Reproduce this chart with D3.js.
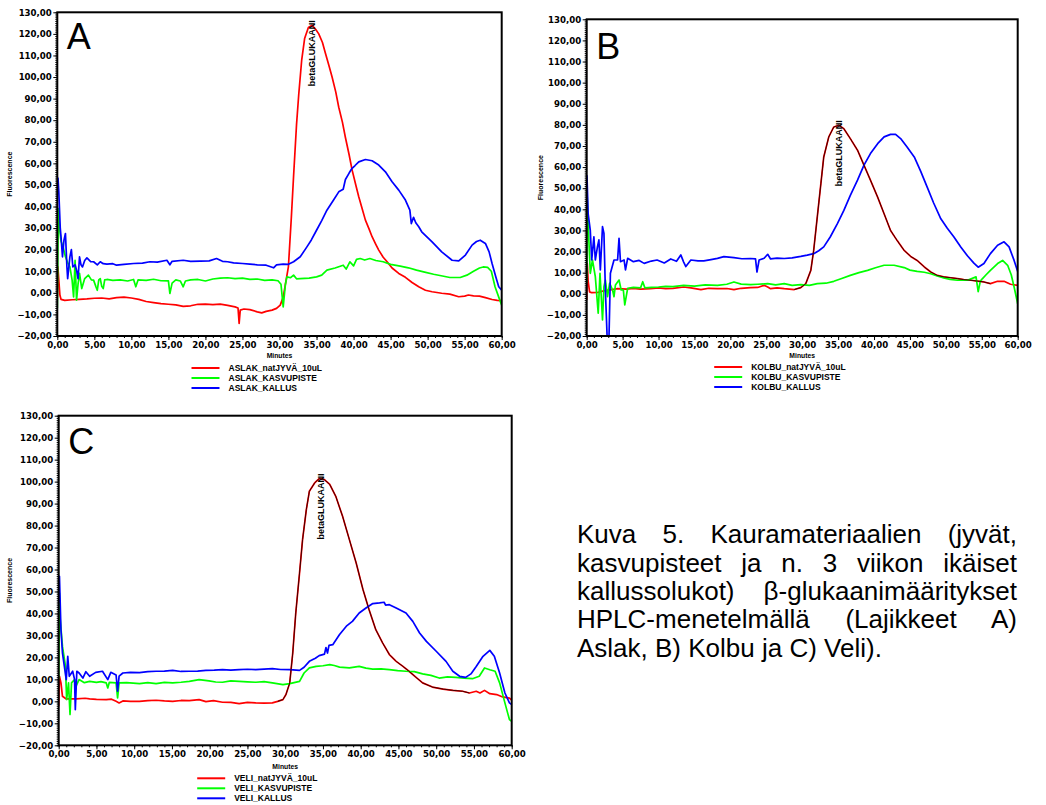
<!DOCTYPE html>
<html>
<head>
<meta charset="utf-8">
<script src="https://cdn.jsdelivr.net/npm/d3@7"></script>
<style>
body { margin: 0; background: #fff; }
svg { display: block; }
</style>
</head>
<body>
<script>
// ---- data: [minutes, fluorescence] ----
var aslakJyva = [[0,-2],[0.08,12],[0.2,6],[0.35,-1],[0.5,-3],[1,-3.5],[2,-3.2],[3,-3],[4,-2.8],[5,-2.5],[6,-2.4],[7,-2.8],[8,-2.2],[9,-2],[10,-2.4],[11,-3],[12,-4],[13,-4.5],[14,-5],[15,-5.3],[16,-5.6],[17,-6.3],[18,-6],[19,-5.3],[20,-5.2],[21,-5.5],[22,-5.2],[23,-5.8],[24,-6.5],[24.4,-7],[24.55,-14.2],[24.7,-8],[25.2,-7.5],[26,-7.8],[27,-8.8],[27.6,-9.3],[28.2,-8.6],[29,-8],[29.6,-7.2],[30.1,-5.7],[30.5,-2],[30.9,6],[31.2,12],[31.6,35],[31.9,54],[32.3,78],[32.6,92],[33,108],[33.4,118],[33.9,123],[34.4,124],[34.9,122],[35.3,120],[35.8,116],[36.2,111],[36.7,105],[37.1,100],[37.6,93],[38,86],[38.5,79],[38.9,72],[39.4,64],[39.8,57],[40.3,50],[40.7,44.5],[41.2,38.5],[41.6,33.7],[42.1,29.5],[42.5,26],[43,22.5],[43.4,19.8],[44,16.5],[44.5,14.5],[45.2,11.5],[46.1,9],[47,7.2],[47.9,4.8],[48.8,2.8],[49.7,1.2],[50.6,0.5],[51.9,-0.2],[53,-0.6],[54.2,-1.8],[55,-1.5],[55.5,-1],[56.2,-1.4],[57,-1.5],[57.8,-2.2],[58.7,-3.1],[59.4,-3.5],[60,-3.6]];
var aslakKasvupiste = [[0,-7],[0.08,20],[0.15,39],[0.3,30],[0.5,24],[0.8,21],[1.1,16.7],[1.4,14],[1.7,12],[2,5.9],[2.2,-1.9],[2.4,15],[2.6,-3.4],[2.8,4],[3,9],[3.3,2],[3.7,6.6],[4.2,8.2],[4.6,6],[4.9,5.9],[5.2,3],[5.4,1.2],[5.6,6],[5.8,6.6],[6,3],[6.2,2],[6.4,6],[6.7,6.2],[7.5,5.8],[8.5,6],[9.5,5.5],[10.3,6.2],[10.6,2.8],[10.9,6],[12,5.8],[13,6.3],[14,5.6],[15,5.5],[15.2,-0.3],[15.5,4.5],[16,6],[16.6,5.5],[17,2.8],[17.3,5.5],[18,6],[19,6.2],[20,5.5],[21,6.4],[22,6.8],[23,7],[24,6.6],[25,6.8],[26,6.2],[27,6.4],[28,5.8],[29,6],[29.8,5.6],[30.2,4],[30.5,-6.5],[30.8,4],[31,7.4],[31.5,7],[31.9,8.2],[32.3,6.5],[32.8,6.6],[34,6.8],[35,7.4],[35.7,8.2],[36.4,10.5],[37.5,11.5],[38.6,12.8],[39,11],[39.5,14.4],[40,12.5],[40.4,15.5],[40.9,15.9],[41.5,15.2],[42.2,15.9],[43,15],[44,14.4],[45,13.2],[46.3,12.4],[47.4,11.6],[48.5,10.5],[49.6,9.6],[50.8,8.6],[52,7.8],[53,7.1],[54.4,7.1],[55.3,8.2],[56.2,10],[57,11.5],[57.5,12],[58.1,11.8],[58.6,10],[59.1,2.8],[59.6,-2],[60,-5.7]];
var aslakKallus = [[0,53.5],[0.1,53],[0.2,47],[0.4,30],[0.5,26],[0.7,16.7],[0.9,24.4],[1.1,27.5],[1.3,12],[1.4,6.6],[1.7,16.7],[1.9,20],[2.1,12],[2.4,13],[2.6,10.5],[2.8,6.6],[3,16.7],[3.2,13],[3.4,12],[3.7,15],[4,16.2],[4.5,14.5],[4.9,14.4],[5.4,13],[5.8,14.4],[6.2,13.5],[6.7,13.3],[7.5,13.5],[8,12.8],[9,13.2],[10.3,13.6],[11.5,13.8],[12.5,14.4],[13.5,14.2],[14.8,15.1],[15.2,13],[15.5,14.6],[17,15.1],[18,14.6],[19.3,14.7],[20.5,14.8],[21.5,15.9],[22.3,14.6],[23,14.4],[23.8,13.9],[25,13.6],[26,13.3],[27,13],[28.2,12.8],[29.2,11.6],[29.6,13],[30.5,13.3],[31.2,13.2],[31.9,14.4],[32.8,16.7],[33.7,21.3],[34.3,24.5],[35,29],[35.7,33.5],[36.4,38.3],[37.3,43],[38,46.8],[38.6,48],[38.9,52.5],[39.4,55.5],[39.8,57.7],[40.2,59],[40.7,60.7],[41.6,61.8],[42.5,61.2],[43.4,59.2],[44.3,56.1],[45.2,51.5],[46.1,47.6],[47,43],[47.6,38.3],[47.8,32.1],[48.1,35],[48.4,32.5],[48.8,30.6],[49.2,28.3],[50.6,23.6],[51.9,19],[53.3,15.1],[54.2,14.8],[55.1,17.5],[56,22.1],[56.6,23.8],[57.1,24.4],[57.8,22.9],[58.3,19],[58.7,13.6],[59.2,7.5],[59.6,2.8],[60,1.2]];

var kolbuJyva = [[0,-3],[0.08,14.3],[0.2,6],[0.4,0.9],[0.7,0.5],[1.5,0.6],[2.5,1.5],[3.5,2],[4.3,2.4],[5.5,2.2],[6.5,2.6],[7.5,2.2],[8.9,2.4],[10,2.8],[11,2.4],[12,2.6],[13.5,3.2],[14.5,2.8],[15.9,2],[17,2.6],[18.2,2.4],[19.5,2.5],[20.5,2],[21.5,2.6],[22.8,2.9],[23.8,3],[24.7,4],[25.2,3.2],[25.6,2.4],[26.5,2.8],[27.5,2.4],[28.9,2],[29.8,2.9],[30.5,4.8],[31.2,11.1],[31.6,20.6],[32.1,36.4],[32.6,52.2],[33,64.8],[33.7,74.3],[34.4,79],[35.1,79.8],[35.8,78.2],[36.7,73.5],[37.7,68],[38.6,60.9],[39.5,53.8],[40.5,45.8],[41.4,37.9],[42.3,30],[43.2,25.3],[44.2,20.5],[45.1,17.7],[46,15.8],[47,12.7],[47.9,10.3],[48.8,8.7],[49.7,8],[50.7,7.6],[51.6,7.2],[52.5,6.7],[53.5,6.4],[54.4,6],[55.3,5.6],[56.2,4.8],[57.2,5.9],[58.1,5.9],[59,4.5],[60,4]];
var kolbuKasvupiste = [[0,5],[0.05,47.6],[0.3,25.5],[0.5,9.7],[0.8,16],[1.2,8.1],[1.6,-9.2],[1.85,9.7],[2.2,-12.4],[2.4,3.4],[2.6,6.5],[2.9,-1.4],[3.2,5],[3.6,1.8],[3.8,-1.4],[4,4.2],[4.5,6.5],[4.8,1.8],[5.1,1.8],[5.3,-5.3],[5.7,2.6],[6.5,3],[7.5,2.8],[7.8,5.7],[8.1,2.8],[9,3],[10,3.2],[11,3.5],[12,3.4],[13.5,4],[15,3.6],[16.5,4.2],[18.2,4],[19.5,4.5],[20.5,5.6],[21.5,4.6],[22.8,4.3],[23.8,4.5],[25.2,4.8],[26.3,4.2],[27.5,4.8],[28.6,4],[29.8,4.3],[31,4],[32.1,4.8],[33.3,5],[34.4,5.9],[35.5,7.2],[36.7,8.7],[37.9,10],[39.1,11.1],[40.2,12.3],[41.4,13.5],[42.8,13.5],[44.2,12.4],[45,11.2],[46,10.6],[47,10.2],[47.9,9.5],[48.8,8.4],[49.7,7.5],[50.6,6.8],[51.6,6.4],[53,6.4],[54.2,8],[54.5,1],[54.8,6],[55.1,7.2],[55.6,9],[56.2,11.1],[57.2,14.3],[57.9,15.8],[58.6,13.5],[59.1,9],[59.5,3.2],[60,-4.7]];
var kolbuKallus = [[0,40],[0.04,55.9],[0.2,38],[0.5,30],[0.7,16],[1,27],[1.2,16],[1.5,22.3],[1.7,25.5],[1.9,11.3],[2.2,31.8],[2.4,28.6],[2.6,1.8],[2.85,-21],[3.1,-21],[3.3,9.7],[3.8,16],[4.3,16],[4.5,26.3],[4.7,15.2],[5.2,16],[5.4,11.3],[5.7,16.8],[6.5,15.2],[7.3,15.8],[8,14.4],[9,15.5],[9.8,16],[10.8,14.6],[11.7,16.5],[12.5,15.4],[13.1,18.4],[13.5,15],[13.8,12.9],[14.5,16],[15.5,15.6],[16.3,15.6],[17.3,16.2],[18.2,16.8],[19.1,17.6],[20.5,17.1],[21.6,16.6],[22.8,16.7],[23.5,16.5],[23.7,10.3],[24,16],[24.7,16.8],[25.2,18.7],[25.6,16.5],[26.5,16.9],[27.5,16.7],[28.6,17],[29.8,17.7],[30.7,18.3],[31.6,19],[32.3,20.4],[33,22.2],[33.9,26.9],[34.9,33.2],[35.8,39.5],[36.7,46.6],[37.7,53.8],[38.6,60.9],[39.5,66.4],[40.5,71.1],[41.4,74.3],[42.3,75.5],[43,75.5],[43.7,73.5],[44.6,69.5],[45.6,64.8],[46.5,58],[47.4,50.5],[48.3,43],[49.3,35.5],[50.2,31],[51.1,27],[52.1,22],[53,18],[53.9,14.5],[54.5,12.6],[55.3,14.3],[56.2,19],[57.2,23],[58.1,24.6],[58.8,22.2],[59.5,15.8],[60,10.5]];

var veliJyva = [[0,-2.2],[0.1,11.4],[0.3,8.4],[0.5,2.3],[1,1.1],[2.3,1.1],[3.5,1.4],[4.1,1.1],[5,0.9],[6.3,0.8],[7,1],[7.6,0],[8,-0.7],[8.5,0.2],[9.5,0],[10.7,0],[11.8,0.3],[12.9,0.5],[14,0.2],[15.1,0],[16.2,0.4],[17.3,0.3],[18.6,0.8],[19.5,-0.1],[20.5,0.3],[21.7,-0.4],[22.8,-0.5],[23.9,-1],[25,-0.5],[26.1,-0.7],[27.2,-0.8],[28.3,-0.7],[29,0],[29.7,0.8],[30.1,3.1],[30.6,8.4],[31,22],[31.4,40.2],[31.9,58.4],[32.3,73.6],[32.8,87.3],[33.2,95.6],[33.9,99.4],[34.5,101.4],[35.2,100.9],[35.9,98.7],[36.7,93.3],[37.6,84.2],[38.5,73.6],[39.4,63],[40.3,50.9],[41.1,41.8],[42,32.6],[42.9,26.6],[43.8,21.3],[44.7,18.2],[45.6,15.9],[46.4,13.7],[47.3,11],[48.2,8.4],[49.5,6.5],[50.9,5.6],[52.2,5],[53.5,4.6],[54.4,3.8],[55.3,4.6],[55.8,3.8],[56.4,5],[57.1,3.5],[58,3.1],[58.8,2],[59.7,1.5],[60,0.5]];
var veliKasvupiste = [[0,10],[0.1,49.3],[0.2,37.2],[0.5,25],[0.9,15.9],[1.05,0.8],[1.3,8.4],[1.5,-6],[1.7,8.4],[2.1,9.9],[2.3,6.9],[2.7,9.9],[3.4,8.5],[4.1,9.1],[5,8.6],[5.6,9],[6.3,8.4],[6.5,6.1],[6.7,8.6],[7.6,8.4],[7.8,1.6],[8,8.4],[9,8.5],[10.7,8.1],[11.8,8.5],[12.9,8.1],[14,8.6],[15.1,8.4],[16.2,8.7],[17.3,9.1],[18.6,9.9],[19.9,9.3],[20.8,8.8],[21.7,8.7],[22.8,9.3],[23.9,9.1],[25,8.9],[26.1,8.7],[27.2,9],[28.3,8.4],[29.7,7.6],[30.6,8.1],[31.9,9.1],[32.5,12.9],[33.2,15.2],[34.1,15.9],[35,16.2],[35.9,16.7],[36.5,16.3],[37.2,15.6],[38.5,15.2],[39.8,15.9],[40.7,15.1],[41.6,14.7],[42.7,14.8],[43.8,14.4],[44.9,14],[46,13.7],[47.1,13.5],[48.2,12.5],[49.3,11.8],[50.4,10.6],[51.5,11.1],[52.6,10.9],[53.7,10.6],[54.8,10.3],[55.7,11.4],[56.4,15.2],[57.1,14.4],[57.8,13.7],[58.4,8.4],[59.1,-0.7],[59.7,-8.3],[60,-9.1]];
var veliKallus = [[0,45],[0.1,56.9],[0.3,32.6],[0.5,22],[0.75,15.9],[1,9.9],[1.2,20.5],[1.4,11.4],[1.85,13.7],[2.1,10],[2.2,-3.8],[2.4,13.7],[2.7,12.9],[3.2,10.6],[3.6,13.5],[4.1,11.4],[4.9,13.2],[5.8,13.7],[6.5,9.9],[6.9,13.2],[7.6,12],[7.8,4.6],[8,11.5],[8.5,12.9],[9.5,13.2],[10.7,13.1],[11.8,13.5],[12.9,13.7],[14,13.8],[15.1,14.1],[16.2,13.6],[17.3,13.7],[18.4,13.8],[19.5,14.1],[20.6,14.2],[21.7,14.4],[22.8,14.2],[23.9,14.4],[25,14.6],[26.1,14.4],[27.2,14.7],[28.3,14.9],[29.4,14.5],[30.6,14.4],[31.9,14.1],[32.5,15.5],[33.2,18.2],[34,19.6],[34.5,20.8],[35.2,21.5],[35.4,24.5],[35.6,22],[35.8,25.5],[36.3,25.8],[37.2,30.4],[38.1,34.2],[38.9,36.4],[39.8,40.2],[40.7,42.5],[41.6,44.5],[42.5,44.8],[43.1,45.1],[43.3,43.8],[43.8,44],[44.7,42.5],[46,40.2],[46.9,36.4],[47.8,31.1],[48.7,27.3],[50,22.8],[51.3,18.2],[52.2,13.7],[53.1,11.4],[53.9,10.9],[54.6,12.5],[55.3,15.9],[56.2,20.5],[57.1,23.2],[57.7,20.5],[58.4,12.9],[59.1,3.8],[59.7,-0.7],[60,-1.5]];

var panelLetters = ["A", "B", "C"];
var varieties = ["ASLAK", "KOLBU", "VELI"];
var seriesNames = ["natJYVÄ_10uL", "KASVUPISTE", "KALLUS"];
var peakLabel = "betaGLUKAANI";
var peakTimes = [34.3, 35.0, 34.7];
var integratedRange = [null, [28.6, 56.4], [28.8, 55.0]]; // part of the grain trace drawn dark
var yTickValues = [-20, -10, 0, 10, 20, 30, 40, 50, 60, 70, 80, 90, 100, 110, 120, 130];
var xTickValues = [0, 5, 10, 15, 20, 25, 30, 35, 40, 45, 50, 55, 60];
var captionLines = [
    "Kuva 5. Kauramateriaalien (jyvät,",
    "kasvupisteet ja n. 3 viikon ikäiset",
    "kallussolukot) β-glukaanimääritykset",
    "HPLC-menetelmällä (Lajikkeet A)",
    "Aslak, B) Kolbu ja C) Veli)."
];

var allSeries = [
    [aslakJyva, aslakKasvupiste, aslakKallus],
    [kolbuJyva, kolbuKasvupiste, kolbuKallus],
    [veliJyva, veliKasvupiste, veliKallus]
];

// ---- layout ----
var w = 1046, h = 805;
var colors = ["#ff0000", "#00ff00", "#0000ff"];
var darkRed = "#3a0000";
var boxes = [
    {left: 57.3, right: 501.7, top: 12.3, bottom: 336, letterY: 37, legendY: 32, minutesY: 21.5, titleX: 45},
    {left: 586.7, right: 1017.7, top: 19.3, bottom: 336, letterY: 40, legendY: 31, minutesY: 21.5, titleX: 44},
    {left: 58.7, right: 511.7, top: 415.7, bottom: 745.3, letterY: 38.3, legendY: 33, minutesY: 23.5, titleX: 47}
];

var fmt = function(d) { return d3.format(".2f")(d).replace(".", ","); };

var svg = d3.select("body")
    .append("svg")
    .attr("width", w)
    .attr("height", h);

svg.append("rect")
    .attr("width", w)
    .attr("height", h)
    .attr("fill", "#fff");

boxes.forEach(function(b, p) {
    var xScale = d3.scaleLinear().domain([0, 60]).range([b.left, b.right]);
    var yScale = d3.scaleLinear().domain([-20, 130]).range([b.bottom, b.top]);
    var g = svg.append("g");

    // minor ticks
    g.append("g")
        .attr("transform", "translate(" + b.left + ",0)")
        .call(d3.axisLeft(yScale).tickValues(d3.range(-20, 131, 1)).tickSize(2).tickFormat(""))
        .call(function(s) { s.select(".domain").remove(); });
    g.append("g")
        .attr("transform", "translate(0," + b.bottom + ")")
        .call(d3.axisBottom(xScale).tickValues(d3.range(0, 61, 1)).tickSize(2).tickFormat(""))
        .call(function(s) { s.select(".domain").remove(); });

    // major ticks with labels
    var yAxis = g.append("g")
        .attr("transform", "translate(" + b.left + ",0)")
        .call(d3.axisLeft(yScale).tickValues(yTickValues).tickSize(4).tickPadding(1.5).tickFormat(fmt));
    var xAxis = g.append("g")
        .attr("transform", "translate(0," + b.bottom + ")")
        .call(d3.axisBottom(xScale).tickValues(xTickValues).tickSize(4).tickPadding(2).tickFormat(fmt));
    [yAxis, xAxis].forEach(function(a) {
        a.select(".domain").remove();
        a.attr("font-family", "'DejaVu Sans', Verdana, sans-serif")
            .attr("font-size", 8.6)
            .attr("font-weight", "bold");
        a.selectAll("text").attr("fill", "#000");
    });

    // traces
    var clipId = "clip" + p;
    svg.append("clipPath").attr("id", clipId)
        .append("rect")
        .attr("x", b.left).attr("y", b.top)
        .attr("width", b.right - b.left).attr("height", b.bottom - b.top);

    var line = d3.line()
        .x(function(d) { return xScale(d[0]); })
        .y(function(d) { return yScale(d[1]); });

    var plot = g.append("g").attr("clip-path", "url(#" + clipId + ")");
    allSeries[p].forEach(function(s, i) {
        plot.append("path")
            .datum(s)
            .attr("fill", "none")
            .attr("stroke", colors[i])
            .attr("stroke-width", 1.7)
            .attr("stroke-linejoin", "round")
            .attr("d", line);
    });
    if (integratedRange[p]) {
        var r = integratedRange[p];
        plot.append("path")
            .datum(allSeries[p][0].filter(function(d) { return d[0] >= r[0] && d[0] <= r[1]; }))
            .attr("fill", "none")
            .attr("stroke", darkRed)
            .attr("stroke-width", 1)
            .attr("d", line);
    }

    // frame
    g.append("rect")
        .attr("x", b.left).attr("y", b.top)
        .attr("width", b.right - b.left).attr("height", b.bottom - b.top)
        .attr("fill", "none")
        .attr("stroke", "#000")
        .attr("stroke-width", 2);

    // panel letter
    g.append("text")
        .attr("x", b.left + 9.5)
        .attr("y", b.top + b.letterY)
        .attr("font-family", "'Liberation Sans', Arial, sans-serif")
        .attr("font-size", 36)
        .text(panelLetters[p]);

    // peak annotation
    var peakVal = d3.max(allSeries[p][0], function(d) { return d[1]; });
    g.append("text")
        .attr("transform", "translate(" + (xScale(peakTimes[p]) + 3.5) + "," + (yScale(peakVal) - 5) + ") rotate(-90)")
        .attr("text-anchor", "end")
        .attr("font-family", "'Liberation Sans', Arial, sans-serif")
        .attr("font-weight", "bold")
        .attr("font-size", 9)
        .text(peakLabel);

    // axis titles
    var cx = (b.left + b.right) / 2;
    g.append("text")
        .attr("x", cx)
        .attr("y", b.bottom + b.minutesY)
        .attr("text-anchor", "middle")
        .attr("font-family", "'Liberation Sans', Arial, sans-serif")
        .attr("font-weight", "bold")
        .attr("font-size", 6.8)
        .text("Minutes");
    g.append("text")
        .attr("transform", "translate(" + (b.left - b.titleX) + "," + ((b.top + b.bottom) / 2) + ") rotate(-90)")
        .attr("text-anchor", "middle")
        .attr("font-family", "'Liberation Sans', Arial, sans-serif")
        .attr("font-weight", "bold")
        .attr("font-size", 7)
        .text("Fluorescence");

    // legend
    var lx = cx - 88;
    var legend = g.selectAll(".legend")
        .data(seriesNames)
        .enter()
        .append("g")
        .attr("transform", function(d, i) { return "translate(" + lx + "," + (b.bottom + b.legendY + i * 10) + ")"; });
    legend.append("line")
        .attr("x1", 0).attr("x2", 28)
        .attr("stroke", function(d, i) { return colors[i]; })
        .attr("stroke-width", 2);
    legend.append("text")
        .attr("x", 37)
        .attr("dy", "0.35em")
        .attr("font-family", "'Liberation Sans', Arial, sans-serif")
        .attr("font-weight", "bold")
        .attr("font-size", 8.5)
        .text(function(d) { return varieties[p] + "_" + d; });
});

// caption, justified like the source
var capLeft = 577, capWidth = 440;
var caption = svg.append("g")
    .attr("font-family", "'Liberation Sans', Arial, sans-serif")
    .attr("font-size", 26)
    .attr("fill", "#000");
captionLines.forEach(function(t, i) {
    var el = caption.append("text")
        .attr("x", capLeft)
        .attr("y", 543.3 + i * 28.35)
        .text(t);
    if (i < captionLines.length - 1) {
        var natural = el.node().getComputedTextLength();
        var gaps = t.split(" ").length - 1;
        el.style("word-spacing", ((capWidth - natural) / gaps) + "px");
    }
});
</script>
</body>
</html>
